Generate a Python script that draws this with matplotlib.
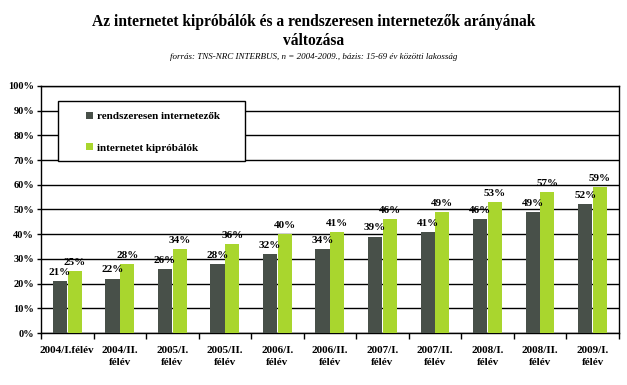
import matplotlib.pyplot as plt
from matplotlib.patches import Rectangle
import numpy as np

# adatok
felevek = ["2004/I.félév", "2004/II.\nfélév", "2005/I.\nfélév", "2005/II.\nfélév",
           "2006/I.\nfélév", "2006/II.\nfélév", "2007/I.\nfélév", "2007/II.\nfélév",
           "2008/I.\nfélév", "2008/II.\nfélév", "2009/I.\nfélév"]
rendszeresen = [21, 22, 26, 28, 32, 34, 39, 41, 46, 49, 52]
kiprobalok = [25, 28, 34, 36, 40, 41, 46, 49, 53, 57, 59]

sotet = "#485049"
zold = "#a9d62e"

plt.rcParams['font.family'] = ['Liberation Serif', 'DejaVu Serif']

fig = plt.figure(figsize=(6.27, 3.85), dpi=100)
ax = fig.add_axes([0.0654, 0.135, 0.9216, 0.642])

x = np.arange(len(felevek))
w = 0.27
ax.bar(x - 0.14, rendszeresen, w, color=sotet, label="rendszeresen internetezők", zorder=3)
ax.bar(x + 0.14, kiprobalok, w, color=zold, label="internetet kipróbálók", zorder=3)

for i in range(len(x)):
    ax.annotate(f"{rendszeresen[i]}%", (x[i] - 0.14, rendszeresen[i]), xytext=(0, 3),
                textcoords="offset points", ha="center", va="bottom",
                fontsize=8, fontweight="bold", zorder=4)
    ax.annotate(f"{kiprobalok[i]}%", (x[i] + 0.14, kiprobalok[i]), xytext=(0, 3),
                textcoords="offset points", ha="center", va="bottom",
                fontsize=8, fontweight="bold", zorder=4)

ax.set_xlim(-0.5, len(x) - 0.5)
ax.set_ylim(0, 100)
ax.set_yticks(np.arange(0, 101, 10))
ax.set_yticklabels([f"{v}%" for v in range(0, 101, 10)], fontsize=7.5, fontweight="bold")
ax.yaxis.grid(True, color="black", linewidth=1, zorder=0)
ax.tick_params(axis="y", length=3, width=1, pad=2)

ax.set_xticks(x)
ax.set_xticklabels(felevek, fontsize=8, fontweight="bold", linespacing=1.45)
ax.set_xticks(np.arange(-0.5, len(x), 1), minor=True)
ax.tick_params(axis="x", which="major", length=0, pad=9)
ax.tick_params(axis="x", which="minor", length=4, width=1, direction="out")

for s in ax.spines.values():
    s.set_linewidth(1)
    s.set_color("black")

# jelmagyarázat keret
keret = Rectangle((58 / 627, 1 - 161 / 385), 187 / 627, 60 / 385, transform=fig.transFigure,
                  facecolor="white", edgecolor="black", linewidth=1, zorder=4)
fig.patches.append(keret)
leg = fig.legend(loc="upper left", bbox_to_anchor=(86 / 627, 1 - 112 / 385),
                 prop={'size': 8, 'weight': 'bold'}, frameon=False,
                 borderpad=0, labelspacing=1.95,
                 handlelength=0.6, handleheight=0.6, handletextpad=0.4, borderaxespad=0)
leg.set_zorder(5)

fig.text(0.5, 1 - 22 / 385, "Az internetet kipróbálók és a rendszeresen internetezők arányának",
         ha="center", va="center", fontsize=11.2, fontweight="bold")
fig.text(0.5, 1 - 41 / 385, "változása", ha="center", va="center", fontsize=11.2, fontweight="bold")
fig.text(0.5, 1 - 57 / 385,
         "forrás: TNS-NRC INTERBUS, n = 2004-2009., bázis: 15-69 év közötti lakosság",
         ha="center", va="center", fontsize=6.5, style="italic")

fig.savefig("out.png", dpi=100)
